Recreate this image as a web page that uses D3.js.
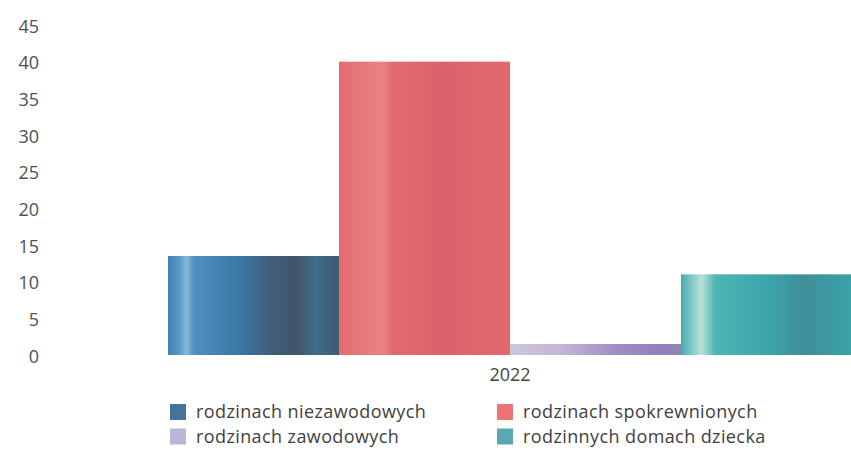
<!DOCTYPE html>
<html><head><meta charset="utf-8">
<script src="https://cdn.jsdelivr.net/npm/d3@7"></script>
<style>body{margin:0;background:#fff}svg{display:block}</style>
</head><body>
<script>
const categories = ["2022"];
const seriesNames = ["rodzinach niezawodowych","rodzinach spokrewnionych","rodzinach zawodowych","rodzinnych domach dziecka"];
const seriesValues = [[13.5],[40],[1.5],[11]];
const yTicks = [0,5,10,15,20,25,30,35,40,45];
const seriesColors = ["#47739a","#ec7474","#b9b6d6","#58a9b0"];
const gradStops = [
  [[0,"#4080b0"],[0.07,"#5b9bc8"],[0.11,"#86b8dc"],[0.15,"#4f90c0"],[0.4,"#3b79a7"],[0.6,"#405f79"],[0.75,"#3f5568"],[0.86,"#406c8c"],[1,"#3e5b71"]],
  [[0,"#e46c72"],[0.26,"#ea8283"],[0.31,"#e36a70"],[0.6,"#dd616b"],[1,"#e2696f"]],
  [[0,"#cdc7da"],[0.3,"#c2b6d6"],[0.6,"#a091c4"],[0.9,"#8f7ebb"],[1,"#9088b3"]],
  [[0,"#43adb2"],[0.12,"#b9e2d6"],[0.2,"#4db5b5"],[0.5,"#3ba6ad"],[0.72,"#3f8f99"],[1,"#3ba2aa"]]
];

const W=851,H=452;
const svg=d3.select("body").append("svg").attr("width",W).attr("height",H);
const defs=svg.append("defs");
gradStops.forEach((st,i)=>{
  const g=defs.append("linearGradient").attr("id","g"+i).attr("x1","0").attr("x2","1").attr("y1","0").attr("y2","0");
  st.forEach(s=>g.append("stop").attr("offset",s[0]).attr("stop-color",s[1]));
});

const y=d3.scaleLinear().domain([0,45]).range([355,25]);
const x0=d3.scaleBand().domain(categories).range([168,852]).padding(0);
const x1=d3.scaleBand().domain(d3.range(seriesNames.length)).range([0,x0.bandwidth()]).padding(0);

const font="'Open Sans', sans-serif";
const yAxis=svg.append("g").attr("transform","translate(39,0)")
  .call(d3.axisLeft(y).tickValues(yTicks).tickSize(0).tickPadding(0));
yAxis.select(".domain").remove();
yAxis.selectAll("text").attr("font-family",font).attr("font-size",18).attr("fill","#505050").attr("dy","0.4em");

categories.forEach((c,ci)=>{
  seriesNames.forEach((s,si)=>{
    const v=seriesValues[si][ci];
    svg.append("rect").attr("x",x0(c)+x1(si)).attr("width",x1.bandwidth())
      .attr("y",y(v)).attr("height",y(0)-y(v)).attr("fill","url(#g"+si+")");
  });
});

const xAxis=svg.append("g").attr("transform","translate(0,"+y(0)+")")
  .call(d3.axisBottom(x0).tickSize(0).tickPadding(13));
xAxis.select(".domain").remove();
xAxis.selectAll("text").attr("font-family",font).attr("font-size",18).attr("fill","#454545");

const legPos=[[170,404],[497,404],[170,428.5],[497,428.5]];
legPos.forEach(([lx,ly],si)=>{
  const g=svg.append("g").attr("transform","translate("+lx+","+ly+")");
  g.append("rect").attr("width",16).attr("height",16).attr("fill",seriesColors[si]);
  g.append("text").attr("x",26).attr("y",14).attr("font-family",font).attr("font-size",18)
    .attr("letter-spacing","0.4px").attr("fill","#3f3f3f").text(seriesNames[si]);
});
</script>
</body></html>
